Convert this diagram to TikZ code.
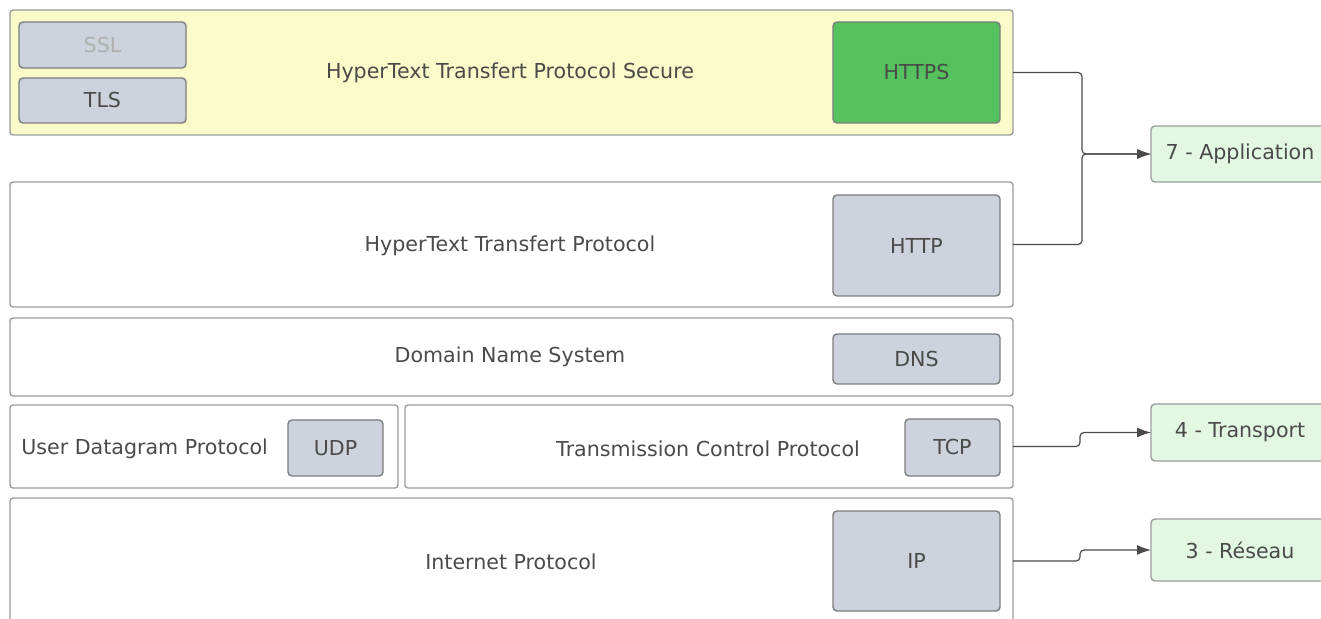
\documentclass[tikz,border=0pt]{standalone}
\usepackage{fontspec}
\setmainfont{DejaVu Sans}
\usetikzlibrary{arrows.meta}

\definecolor{txtgray}{HTML}{4A4A4A}
\definecolor{linegray}{HTML}{9A9CA0}
\definecolor{protofill}{HTML}{CDD3DC}
\definecolor{securefill}{HTML}{FBFAC9}
\definecolor{httpsgreen}{HTML}{55C25E}
\definecolor{osifill}{HTML}{E3F8E3}

\begin{document}
\begin{tikzpicture}[x=0.5pt,y=-0.5pt, every node/.style={font=\fontsize{10.3}{12}\selectfont, text=txtgray},
    layer/.style={draw=linegray, line width=0.7pt, rounded corners=1.5pt, inner sep=0pt, outer sep=0pt},
    proto/.style={draw=linegray!80!black, line width=0.7pt, fill=protofill, rounded corners=2pt, inner sep=0pt, outer sep=0pt},
    osi/.style={draw=linegray, line width=0.7pt, fill=osifill, rounded corners=2pt, inner sep=0pt, outer sep=0pt},
    link/.style={draw=txtgray, line width=0.6pt, rounded corners=2pt, -{Latex[length=7pt,width=5pt]}}]

    \useasboundingbox (0,0) rectangle (1321,619);
    \clip (0,0) rectangle (1321,619);

    % protocol layers
    \node[layer, fill=securefill, minimum width=501.5pt, minimum height=62.5pt] (httpsL) at (511.5,72.5) {};
    \node[layer, minimum width=501.5pt, minimum height=62.5pt] (httpL) at (511.5,244.5) {};
    \node[layer, minimum width=501.5pt, minimum height=39pt] (dnsL) at (511.5,357) {};
    \node[layer, minimum width=194pt, minimum height=41.5pt] (udpL) at (204,446.5) {};
    \node[layer, minimum width=304pt, minimum height=41.5pt] (tcpL) at (709,446.5) {};
    \node[layer, minimum width=501.5pt, minimum height=63pt] (ipL) at (511.5,561) {};

    \node (httpsT) at (510,73) {HyperText Transfert Protocol Secure};
    \node (httpT) at (510,246) {HyperText Transfert Protocol};
    \node (dnsT) at (510,357) {Domain Name System};
    \node[anchor=west, inner sep=0pt] (udpT) at (21,449) {User Datagram Protocol};
    \node (tcpT) at (708,449) {Transmission Control Protocol};
    \node (ipT) at (511,562) {Internet Protocol};

    % acronyms
    \node[proto, minimum width=83.5pt, minimum height=23pt, text=txtgray!45] (ssl) at (102.5,45) {SSL};
    \foreach \name/\lab/\x/\y/\w/\h in {tls/TLS/102.5/100.5/83.5/22.5,
        http/HTTP/916.5/245.5/83.5/50.5, dns/DNS/916.5/359/83.5/25,
        udp/UDP/335.5/448/47.5/28, tcp/TCP/952.5/447.5/47.5/28.5,
        ip/IP/916.5/561/83.5/50}
    \node[proto, minimum width=\w pt, minimum height=\h pt] (\name) at (\x,\y) {\lab};
    \node[proto, fill=httpsgreen, minimum width=83.5pt, minimum height=50.5pt] (https) at (916.5,72.5) {HTTPS};

    % OSI layers
    \node[osi, minimum width=89pt, minimum height=28pt] (app) at (1240,154) {7 - Application};
    \node[osi, minimum width=89pt, minimum height=28.5pt] (trans) at (1240,432.5) {4 - Transport};
    \node[osi, minimum width=89pt, minimum height=31pt] (res) at (1240,550) {3 - Réseau};

    \draw[link] (httpsL.east) -- ++(69,0) |- (app.west);
    \draw[link] (httpL.east) -- ++(69,0) |- (app.west);
    \draw[link] (tcpL.east) -- ++(67,0) |- (trans.west);
    \draw[link] (ipL.east) -- ++(67,0) |- (res.west);

\end{tikzpicture}
\end{document}
